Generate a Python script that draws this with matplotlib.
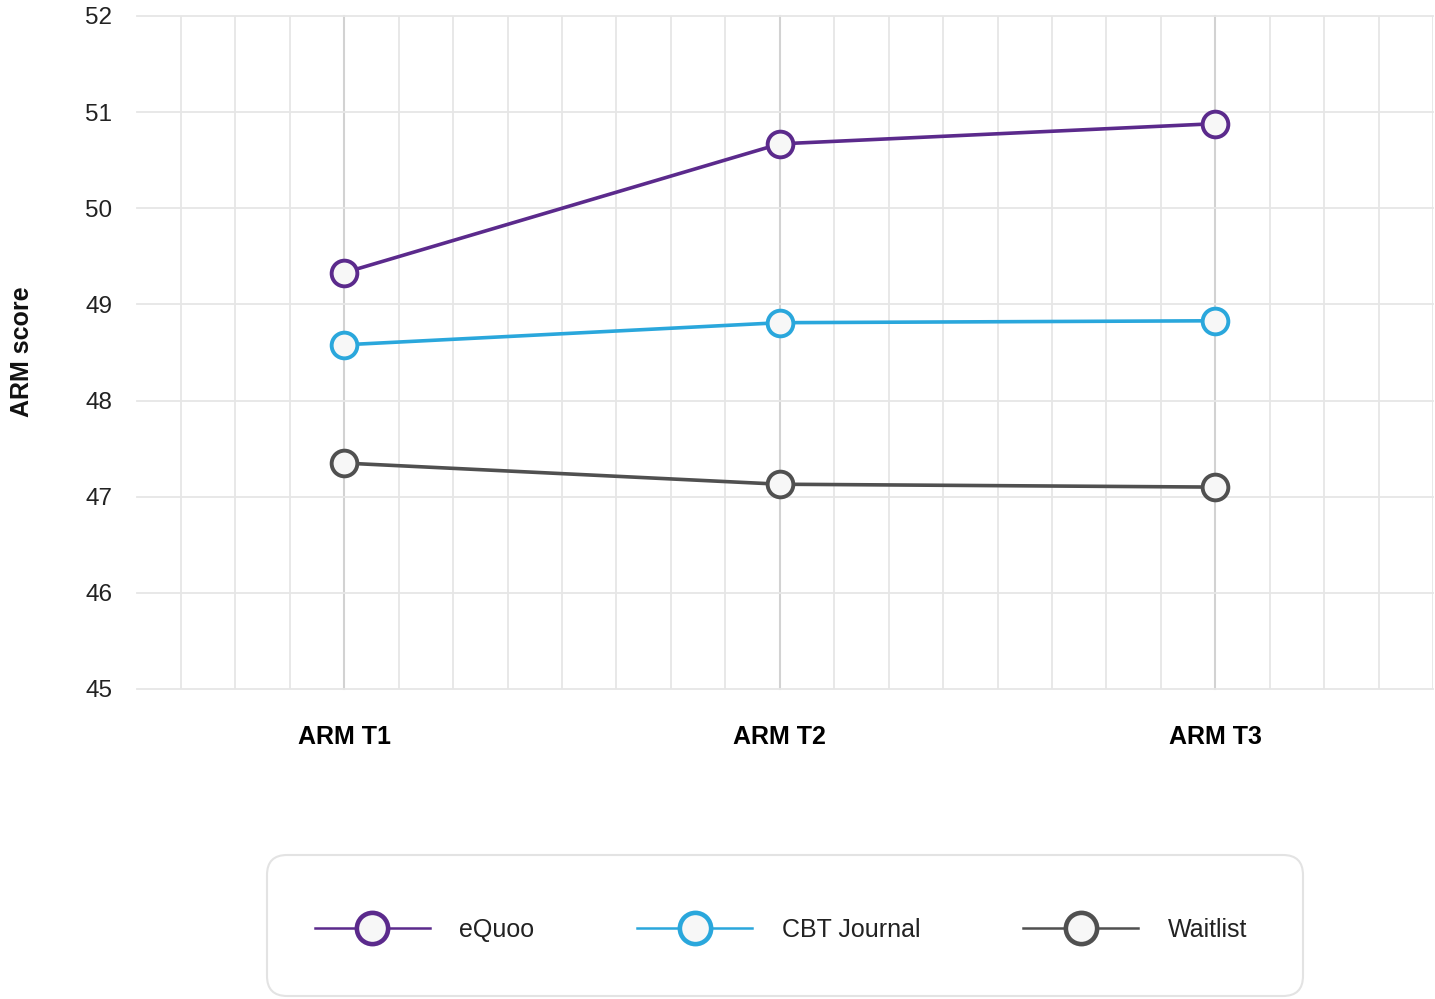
import matplotlib
matplotlib.use("Agg")
import matplotlib.pyplot as plt
from matplotlib.lines import Line2D
from matplotlib.patches import FancyBboxPatch
import numpy as np

plt.rcParams['font.family'] = ['Liberation Sans', 'DejaVu Sans']

categories = ["ARM T1", "ARM T2", "ARM T3"]
series_names = ["eQuoo", "CBT Journal", "Waitlist"]
equoo = [49.33, 50.67, 50.88]
cbt = [48.58, 48.81, 48.83]
waitlist = [47.35, 47.13, 47.10]
yticks = [45, 46, 47, 48, 49, 50, 51, 52]

colors = ["#5B2A8C", "#2AA7DC", "#505050"]
face = "#F7F7F7"

fig = plt.figure(figsize=(14.35, 9.99), dpi=100)
ax = fig.add_axes([137/1435, 1-689/999, (1433-137)/1435, (689-16)/999])

x = np.arange(len(categories))
for vals, c in zip([equoo, cbt, waitlist], colors):
    ax.plot(x, vals, color=c, lw=2.6, marker='o', ms=18.5, mew=2.8,
            mfc=face, mec=c, zorder=3, clip_on=False)

ax.set_xlim(-0.476, 2.5)
ax.set_ylim(45, 52)
ax.set_yticks(yticks)
ax.set_xticks(x)
ax.set_xticklabels(categories, fontsize=18, fontweight='bold')
ax.set_yticklabels([str(t) for t in yticks], fontsize=17.5, color='#222222')
ax.set_xticks(np.arange(-3, 21) / 8.0, minor=True)
ax.tick_params(axis='both', which='both', length=0)
ax.tick_params(axis='x', pad=26)
ax.tick_params(axis='y', pad=18)

for s in ax.spines.values():
    s.set_visible(False)

ax.grid(axis='y', which='major', color='#E6E6E6', lw=1.3, zorder=0)
ax.grid(axis='x', which='minor', color='#E6E6E6', lw=1.3, zorder=0)
ax.grid(axis='x', which='major', color='#D2D2D2', lw=1.5, zorder=0)
for gl in ax.get_xgridlines() + ax.get_ygridlines():
    gl.set_clip_on(False)

fig.text(22/1435, 1-352/999, "ARM score", rotation=90, ha='center', va='center',
         fontsize=18, fontweight='bold', color='#111111')

# legend box
box = FancyBboxPatch((2.67, 0.03), 10.36, 1.41,
                     boxstyle="round,pad=0,rounding_size=0.2",
                     transform=fig.dpi_scale_trans, fc='white', ec='#E3E3E3', lw=1.5)
fig.patches.append(box)

handles = [Line2D([0], [0], color=c, lw=1.8, marker='o', ms=22.5, mew=3.3,
                  mfc=face, mec=c) for c in colors]
leg = fig.legend(handles, series_names, loc='center', ncol=3,
                 bbox_to_anchor=(781/1435, 1-930/999), frameon=False,
                 fontsize=18, handlelength=4.6, handletextpad=1.2,
                 columnspacing=4.1)
for t in leg.get_texts():
    t.set_color('#222222')

fig.savefig("out.png", dpi=100, facecolor='white')
